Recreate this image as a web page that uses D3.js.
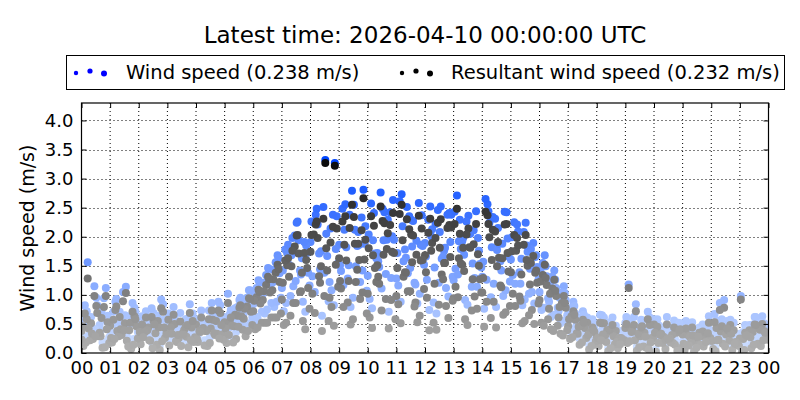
<!DOCTYPE html>
<html><head><meta charset="utf-8">
<script src="https://cdn.jsdelivr.net/npm/d3@7"></script>
<style>body{margin:0;background:#fff}svg{display:block;font-family:"DejaVu Sans",sans-serif}</style>
</head><body><svg id="c" width="800" height="400"></svg>
<script>
const title = "Latest time: 2026-04-10 00:00:00 UTC";
const days = ["2026-04-01","2026-04-02","2026-04-03","2026-04-04","2026-04-05","2026-04-06","2026-04-07","2026-04-08","2026-04-09","2026-04-10"];
const dayStartMinute = [0,11,4,15,7,18,2,13,9,0];
const xTickLabels = ["00","01","02","03","04","05","06","07","08","09","10","11","12","13","14","15","16","17","18","19","20","21","22","23","00"];
const yTicks = [0,0.5,1,1.5,2,2.5,3,3.5,4];
const latestWind = 0.238, latestResultant = 0.232;
const sampleMinutes = 20;

const wind1 = [0.45,0.62,0.38,0.55,0.71,0.48,0.33,0.52,0.64,0.41,0.28,0.36,0.58,0.47,0.39,0.62,0.55,0.68,0.84,1.02,1.21, 1.12,1.68,1.35,1.91,1.44,1.22,1.86,1.51,2.08,1.33,1.72,1.95,1.28,1.64,1.18,1.89,1.47,1.76,1.25,1.98,1.54,1.31,1.82,1.42,1.61,1.19,1.45, 1.05,0.88,0.72,0.55,0.42,0.61,0.35,0.28,0.47,0.52,0.31,0.44,0.58,0.36,0.25,0.41,0.53,0.38,0.29,0.46,0.57,0.33,0.48,0.52];
const res1 = [0.38,0.51,0.29,0.47,0.62,0.39,0.24,0.44,0.55,0.33,0.19,0.28,0.49,0.38,0.31,0.53,0.46,0.59,0.72,0.91,1.08, 0.92,1.49,1.06,1.74,1.21,0.95,1.63,1.24,1.88,1.02,1.51,1.79,0.98,1.38,0.87,1.68,1.19,1.55,0.94,1.81,1.27,1.04,1.6,1.13,1.39,0.9,1.18, 0.91,0.76,0.61,0.46,0.33,0.52,0.27,0.19,0.38,0.43,0.22,0.35,0.49,0.28,0.17,0.32,0.44,0.29,0.21,0.37,0.48,0.25,0.39,0.43];
const wind2 = [0.72,0.95,1.12,0.88,0.65,0.78,0.52,0.69,0.84,0.61,0.47,0.58,0.73,0.55,0.82,0.67,0.91,1.08,1.25,1.46,1.68, 1.72,2.24,1.85,2.38,3.32,3.27,2.12,2.55,2.81,1.94,2.48,2.01,2.73,2.29,1.86,2.52,2.08,2.41,1.92,2.36,1.98,2.56,1.77,2.42,2.02,2.24,1.65, 1.68,1.42,1.15,0.88,0.72,0.58,0.65,0.49,0.38,0.55,0.42,0.61,0.47,0.33,0.52,0.44,0.28,0.39,0.56,0.45,0.31,0.48,0.62,0.51];
const res2 = [0.58,0.81,0.98,0.74,0.51,0.63,0.39,0.55,0.71,0.48,0.33,0.44,0.61,0.42,0.69,0.53,0.78,0.94,1.09,1.31,1.52, 1.51,2.02,1.6,2.21,3.27,3.22,1.86,2.34,2.66,1.68,2.27,1.74,2.55,2.04,1.59,2.31,1.81,2.2,1.63,2.14,1.7,2.37,1.49,2.22,1.76,2.03,1.38, 1.52,1.26,0.98,0.72,0.57,0.44,0.51,0.36,0.26,0.42,0.29,0.48,0.34,0.22,0.39,0.31,0.17,0.27,0.43,0.32,0.19,0.35,0.49,0.38];
const wind3 = [0.21,0.35,0.18,0.29,0.42,0.15,0.26,0.33,0.12,0.24,0.38,0.19,0.31,0.22,0.45,0.28,0.36,0.41,0.55,0.68,0.79, 0.72,1.15,0.88,1.32,0.64,1.08,1.41,0.79,1.22,0.93,1.48,0.71,1.16,1.37,0.85,1.26,0.68,1.12,1.45,0.91,1.29,0.76,1.19,0.98,1.34,0.82,1.05, 0.74,0.62,0.51,0.38,0.25,0.14,0.22,0.09,0.17,0.28,0.11,0.19,0.06,0.15,0.24,0.12,0.08,0.21,0.16,0.27,0.13,0.05,0.18,0.23];
const res3 = [0.12,0.24,0.09,0.18,0.31,0.07,0.15,0.21,0.05,0.13,0.26,0.1,0.19,0.12,0.33,0.17,0.24,0.29,0.41,0.52,0.61, 0.48,0.86,0.55,1.02,0.38,0.79,1.11,0.49,0.93,0.61,1.19,0.42,0.84,1.06,0.53,0.95,0.4,0.81,1.14,0.58,0.97,0.45,0.88,0.66,1.02,0.51,0.74, 0.52,0.41,0.33,0.24,0.14,0.06,0.12,0.03,0.08,0.17,0.04,0.09,0.02,0.07,0.14,0.05,0.03,0.11,0.07,0.16,0.05,0.01,0.08,0.12];
const wind4 = [0.51,0.38,0.64,0.47,0.29,0.56,0.72,0.43,0.35,0.61,0.49,0.27,0.53,0.68,0.41,0.57,0.74,0.82,0.98,1.18,1.37, 1.52,1.94,1.38,2.21,1.67,2.35,1.82,1.49,2.18,1.71,2.42,1.95,1.58,2.27,1.84,2.13,1.62,2.38,1.79,2.05,1.53,2.24,1.88,1.66,2.09,1.74,1.48, 1.32,1.12,0.91,0.68,0.53,0.45,0.61,0.38,0.29,0.47,0.56,0.34,0.42,0.25,0.51,0.37,0.44,0.63,0.31,0.48,0.22,0.39,0.54,0.41];
const res4 = [0.42,0.29,0.53,0.38,0.21,0.46,0.61,0.34,0.26,0.5,0.39,0.19,0.43,0.57,0.32,0.47,0.63,0.71,0.85,1.04,1.22, 1.31,1.71,1.12,1.98,1.42,2.14,1.59,1.22,1.95,1.46,2.23,1.72,1.31,2.02,1.6,1.89,1.35,2.16,1.54,1.81,1.27,1.99,1.64,1.4,1.85,1.5,1.21, 1.17,0.98,0.78,0.57,0.43,0.36,0.51,0.29,0.21,0.38,0.46,0.26,0.33,0.18,0.41,0.28,0.35,0.52,0.23,0.39,0.15,0.3,0.44,0.32];
const wind5 = [0.82,1.15,0.94,0.71,1.05,0.86,0.63,0.77,0.92,0.58,0.69,0.84,0.51,0.73,0.88,1.02,0.79,0.95,1.12,1.34,1.56, 1.78,2.02,1.91,2.24,2.51,2.38,2.48,2.79,2.33,2.57,2.76,2.42,2.61,2.35,2.58,2.29,2.46,2.38,2.71,2.26,2.44,2.65,2.31,2.43,2.25,2.08,1.89, 1.55,1.31,1.04,0.78,0.61,0.49,0.66,0.53,0.37,1.18,0.45,0.71,0.58,0.62,0.48,0.55,0.39,0.44,0.67,0.91,0.52,0.36,0.49,0.63];
const res5 = [0.68,0.98,0.79,0.57,0.89,0.71,0.49,0.62,0.77,0.44,0.54,0.69,0.38,0.58,0.73,0.86,0.64,0.8,0.96,1.17,1.38, 1.59,1.83,1.72,2.04,2.31,2.17,2.26,2.55,2.11,2.35,2.52,2.2,2.39,2.13,2.36,2.07,2.24,2.15,2.48,2.04,2.22,2.43,2.09,2.21,2.03,1.86,1.67, 1.34,1.11,0.86,0.63,0.47,0.36,0.52,0.4,0.26,1.12,0.33,0.58,0.45,0.49,0.35,0.42,0.27,0.31,0.53,0.78,0.39,0.24,0.36,0.5];
const wind6 = [0.33,0.48,0.27,0.41,0.19,0.36,0.52,0.24,0.45,0.31,0.58,0.39,0.22,0.47,0.35,0.29,0.53,0.62,0.71,0.86,0.95, 0.98,1.42,1.16,1.71,0.89,1.55,1.28,1.84,1.07,1.63,1.36,0.94,1.78,1.21,1.52,0.87,1.66,1.31,1.92,1.14,1.47,0.96,1.58,1.23,1.39,1.02,1.27, 0.94,0.78,0.65,0.52,0.41,0.33,0.46,0.27,0.35,0.62,0.21,0.38,0.29,0.44,0.18,0.31,0.25,0.39,0.86,0.34,0.23,0.42,0.28,0.36];
const res6 = [0.22,0.35,0.17,0.29,0.11,0.25,0.39,0.14,0.33,0.2,0.44,0.27,0.13,0.34,0.23,0.18,0.4,0.48,0.52,0.61,0.68, 0.64,1.05,0.76,1.32,0.55,1.14,0.87,1.43,0.68,1.22,0.93,0.58,1.39,0.8,1.1,0.52,1.27,0.9,1.52,0.73,1.04,0.6,1.16,0.81,0.97,0.65,0.85, 0.58,0.47,0.39,0.34,0.26,0.2,0.31,0.15,0.22,0.48,0.11,0.25,0.17,0.31,0.09,0.19,0.14,0.26,0.74,0.21,0.12,0.29,0.16,0.23];
const wind7 = [0.58,0.44,0.71,0.36,0.52,0.63,0.47,0.31,0.55,0.68,0.42,0.59,0.34,0.49,0.66,0.53,0.77,0.88,1.04,1.21,1.43, 1.42,1.98,1.63,2.26,1.75,2.14,1.51,2.38,1.86,2.04,1.58,2.29,1.72,2.51,1.93,1.66,2.22,1.81,2.43,1.69,2.11,1.57,2.34,1.88,1.99,1.62,1.79, 1.41,1.19,0.95,0.72,0.58,0.43,0.36,0.51,0.28,0.62,0.84,0.39,0.47,0.33,0.56,0.25,0.41,0.49,0.31,0.58,0.44,0.98,0.37,0.52];
const res7 = [0.46,0.33,0.6,0.26,0.41,0.52,0.36,0.22,0.44,0.57,0.31,0.48,0.24,0.38,0.55,0.42,0.66,0.76,0.9,1.06,1.27, 1.21,1.76,1.38,2.03,1.49,1.9,1.24,2.15,1.6,1.8,1.31,2.06,1.46,2.3,1.69,1.39,1.98,1.55,2.22,1.41,1.87,1.29,2.12,1.63,1.75,1.35,1.55, 1.23,1.02,0.79,0.58,0.45,0.31,0.26,0.39,0.19,0.5,0.72,0.28,0.35,0.23,0.44,0.16,0.3,0.37,0.21,0.46,0.33,0.92,0.27,0.4];
const wind8 = [1.56,0.82,0.54,0.93,1.14,0.71,0.48,0.62,0.57,0.79,0.44,0.68,0.53,0.86,0.61,0.74,0.95,1.08,1.22,1.45,1.63, 1.86,2.26,1.72,2.48,2.05,1.79,2.56,2.12,1.88,2.41,1.94,2.63,2.18,1.83,2.37,2.01,2.52,1.91,2.29,2.07,1.76,2.44,2.15,1.97,2.21,1.85,1.68, 1.49,1.26,1.03,0.81,0.66,0.52,0.44,0.61,0.35,0.48,0.57,0.29,0.42,0.36,0.51,0.23,0.39,0.46,0.33,0.55,0.28,0.41,0.62,0.47];
const res8 = [1.28,0.69,0.41,0.8,1.03,0.58,0.36,0.49,0.44,0.66,0.32,0.55,0.4,0.73,0.48,0.61,0.82,0.93,1.05,1.27,1.44, 1.63,2.03,1.46,2.26,1.8,1.52,2.35,1.88,1.61,2.19,1.69,2.41,1.94,1.56,2.14,1.76,2.3,1.65,2.05,1.82,1.5,2.22,1.91,1.72,1.98,1.6,1.42, 1.29,1.07,0.86,0.66,0.52,0.39,0.32,0.48,0.24,0.36,0.44,0.18,0.31,0.25,0.39,0.13,0.28,0.34,0.22,0.42,0.17,0.3,0.48,0.35];
const wind9 = [0.28,0.41,0.19,0.35,0.52,0.24,0.38,0.16,0.31,0.45,0.22,0.33,0.49,0.27,0.36,0.43,0.58,0.51,0.62,0.75,0.88, 0.86,1.24,0.71,1.05,1.38,0.82,1.17,0.95,1.42,0.77,1.11,1.29,0.88,1.46,1.02,0.74,1.21,0.97,1.35,0.83,1.14,1.26,0.79,1.08,1.19,0.92,0.85, 0.78,0.66,0.55,0.42,0.31,0.24,0.36,0.18,0.27,0.33,0.21,0.15,0.29,0.38,0.12,0.25,0.19,0.32,0.09,0.22,0.28,0.14,0.26,0.35];
const res9 = [0.18,0.29,0.1,0.24,0.39,0.14,0.27,0.08,0.2,0.33,0.12,0.22,0.36,0.17,0.25,0.31,0.45,0.38,0.44,0.52,0.61, 0.52,0.86,0.41,0.69,0.98,0.47,0.79,0.58,1.04,0.43,0.73,0.91,0.51,1.06,0.64,0.39,0.83,0.6,0.96,0.48,0.76,0.88,0.44,0.7,0.81,0.55,0.5, 0.47,0.38,0.3,0.27,0.18,0.12,0.22,0.08,0.15,0.2,0.1,0.06,0.17,0.25,0.04,0.13,0.09,0.19,0.03,0.11,0.16,0.05,0.14,0.22];
const wind10 = [latestWind];
const res10 = [latestResultant];

const windDays = [wind1,wind2,wind3,wind4,wind5,wind6,wind7,wind8,wind9,wind10];
const resDays = [res1,res2,res3,res4,res5,res6,res7,res8,res9,res10];

const svg = d3.select("#c");
const m = {l:81.5, r:768.5, t:103, b:353};
const x = d3.scaleLinear().domain([0,24]).range([m.l,m.r]);
const y = d3.scaleLinear().domain([0,4.3]).range([m.b,m.t]);
const blueC = d3.scaleLinear().domain([0,3.3]).range(["#d2e2ff","#0046ff"]).clamp(true);
const grayC = d3.scaleLinear().domain([0,3.3]).range(["#b4b4b4","#0a0a0a"]).clamp(true);

svg.append("defs").append("clipPath").attr("id","plotclip").append("rect")
  .attr("x",m.l).attr("y",m.t).attr("width",m.r-m.l).attr("height",m.b-m.t);

svg.append("text").attr("x",425).attr("y",43).attr("text-anchor","middle").attr("font-size",23).text(title);

// grid
const g = svg.append("g");
g.selectAll("line.vx").data(d3.range(1,24)).join("line")
  .attr("x1",d=>x(d)).attr("x2",d=>x(d)).attr("y1",m.t).attr("y2",m.b)
  .attr("stroke","#000").attr("stroke-width",1).attr("stroke-dasharray","1,3");
g.selectAll("line.hy").data(yTicks.slice(1)).join("line")
  .attr("x1",m.l).attr("x2",m.r).attr("y1",d=>Math.round(y(d))+0.5).attr("y2",d=>Math.round(y(d))+0.5)
  .attr("stroke","#000").attr("stroke-width",1).attr("stroke-dasharray","1,3");

// points: all wind speed first, then all resultant wind speed on top
const pts = svg.append("g").attr("clip-path","url(#plotclip)");
const tHour = (di,i)=> (dayStartMinute[di] + i*sampleMinutes)/60;
const gw = pts.append("g"), gr = pts.append("g");
windDays.forEach((w,di)=>{
  gw.append("g").selectAll("circle").data(w).join("circle")
    .attr("cx",(d,i)=>x(tHour(di,i))).attr("cy",d=>y(d)).attr("r",4)
    .attr("fill",d=>blueC(d));
});
resDays.forEach((r,di)=>{
  gr.append("g").selectAll("circle").data(r).join("circle")
    .attr("cx",(d,i)=>x(tHour(di,i))).attr("cy",d=>y(d)).attr("r",4)
    .attr("fill",d=>grayC(d));
});

// axes
const xAxis = d3.axisBottom(x).tickValues(d3.range(0,25)).tickFormat((d,i)=>xTickLabels[i]).tickSizeInner(-5).tickSizeOuter(0).tickPadding(8);
const gx = svg.append("g").attr("transform",`translate(0,${m.b})`).call(xAxis);
gx.select(".domain").remove();
gx.selectAll("text").attr("font-size",18).attr("fill","#000").attr("font-family","DejaVu Sans");
const xTop = d3.axisTop(x).tickValues(d3.range(0,25)).tickFormat("").tickSizeInner(-5).tickSizeOuter(0);
svg.append("g").attr("transform",`translate(0,${m.t})`).call(xTop).select(".domain").remove();

const yAxis = d3.axisLeft(y).tickValues(yTicks).tickFormat(d3.format(".1f")).tickSizeInner(-5).tickSizeOuter(0).tickPadding(8);
const gy = svg.append("g").attr("transform",`translate(${m.l},0)`).call(yAxis);
gy.select(".domain").remove();
gy.selectAll("text").attr("font-size",18).attr("fill","#000").attr("font-family","DejaVu Sans");
const yR = d3.axisRight(y).tickValues(yTicks).tickFormat("").tickSizeInner(-5).tickSizeOuter(0);
svg.append("g").attr("transform",`translate(${m.r},0)`).call(yR).select(".domain").remove();

svg.append("rect").attr("x",m.l).attr("y",m.t).attr("width",m.r-m.l).attr("height",m.b-m.t)
  .attr("fill","none").attr("stroke","#000").attr("stroke-width",1.2);

svg.append("text").attr("transform",`translate(34,${(m.t+m.b)/2}) rotate(-90)`).attr("text-anchor","middle")
  .attr("font-size",19).text("Wind speed (m/s)");

// legend
const lg = svg.append("g");
lg.append("rect").attr("x",66.5).attr("y",55.5).attr("width",718).attr("height",34).attr("fill","#fff").attr("stroke","#000").attr("stroke-width",1);
const legItems = [
  {label:`Wind speed (${latestWind.toFixed(3)} m/s)`, color:"#0000ff", x0:76, tx:126},
  {label:`Resultant wind speed (${latestResultant.toFixed(3)} m/s)`, color:"#000000", x0:402, tx:451}
];
const offs = [{dx:0,dy:1,r:2.2},{dx:14,dy:-1,r:2.6},{dx:28,dy:1.5,r:3}];
legItems.forEach(it=>{
  offs.forEach(o=>lg.append("circle").attr("cx",it.x0+o.dx).attr("cy",72+o.dy).attr("r",o.r).attr("fill",it.color));
  lg.append("text").attr("x",it.tx).attr("y",79).attr("font-size",19.5).text(it.label);
});
</script></body></html>
